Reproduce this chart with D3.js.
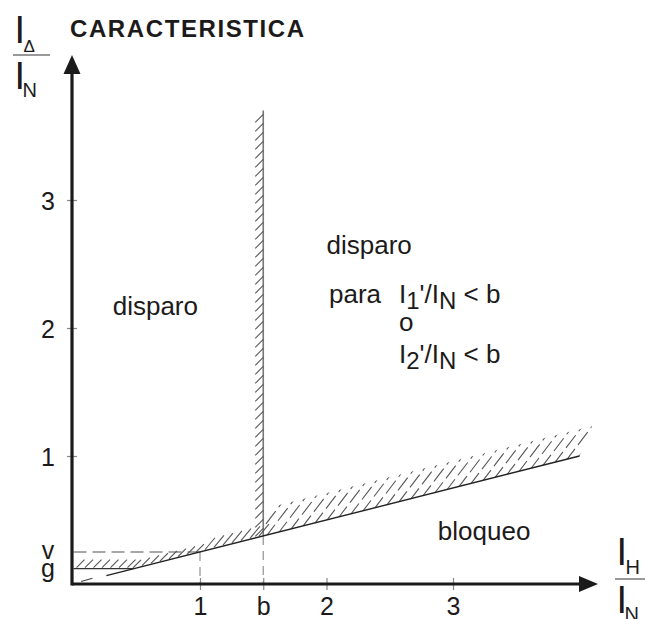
<!DOCTYPE html>
<html><head><meta charset="utf-8">
<script src="https://cdn.jsdelivr.net/npm/d3@7"></script>
<style>
html,body{margin:0;padding:0;background:#fff;}
text{font-family:"Liberation Sans",Arial,sans-serif;fill:#1c1a1a;}
</style></head>
<body><svg id="c" width="645" height="619"></svg>
<script>
// ---- data ----
const xTickVals = [1, 1.5, 2, 3];
const xTickLabels = ["1", "b", "2", "3"];
const yTickVals = [1, 2, 3];
const yTickLabels = ["1", "2", "3"];
const levelNames = ["v", "g"];
const levelVals = [0.25, 0.12];
const bValue = 1.5;
const slope = 0.25;            // characteristic line I_Δ/I_N = 0.25 · I_H/I_N
const lineRange = [0.26, 4.0];
const gEnd = 0.47;             // where g level meets the line
const vertTop = 3.7;           // top of vertical boundary at b
const bandOffset = 0.21;       // width of hatched band above line (right of b)
const bandUpperEnd = 4.1;
const regionLabels = ["disparo", "disparo", "bloqueo"];
const regionX = [0.31, 2.0, 2.88];
const regionY = [2.1, 2.58, 0.34];

// ---- scales ----
const svg = d3.select("#c");
const x = d3.scaleLinear().domain([0, 4]).range([73.5, 579.5]);
const y = d3.scaleLinear().domain([0, 3]).range([584, 200]);
const f = v => slope * v;

const defs = svg.append("defs");

// ---- gray dashed guides ----
svg.append("line").attr("x1", x(0)).attr("x2", x(1)).attr("y1", y(levelVals[0])).attr("y2", y(levelVals[0]))
  .attr("stroke", "#8a8a8a").attr("stroke-width", 1.3).attr("stroke-dasharray", "13,6");
[1, bValue].forEach(v => {
  svg.append("line").attr("x1", x(v)).attr("x2", x(v)).attr("y1", y(f(v))).attr("y2", y(0))
    .attr("stroke", "#9a9a9a").attr("stroke-width", 1.3).attr("stroke-dasharray", "9,6");
});

// ---- vertical boundary at b ----
const hatchCol = "#555";
svg.append("line").attr("x1", x(bValue)).attr("x2", x(bValue)).attr("y1", y(f(bValue))).attr("y2", y(vertTop))
  .attr("stroke", "#777").attr("stroke-width", 1.6);
const vh = [];
for (let py = y(vertTop) + 4; py < y(f(bValue)) - 4; py += 9) vh.push(py);
svg.append("g").selectAll("line").data(vh).join("line")
  .attr("x1", x(bValue) - 8).attr("y1", d => d + 8).attr("x2", x(bValue)).attr("y2", d => d)
  .attr("stroke", hatchCol).attr("stroke-width", 1.1);

// ---- g level and hatches ----
svg.append("line").attr("x1", x(0)).attr("x2", x(gEnd)).attr("y1", y(levelVals[1])).attr("y2", y(levelVals[1]))
  .attr("stroke", "#333").attr("stroke-width", 1.3);
const gh = [];
for (let px = x(0) + 3; px < x(gEnd) - 4; px += 8.5) gh.push(px);
svg.append("g").selectAll("line").data(gh).join("line")
  .attr("x1", d => d).attr("y1", y(levelVals[1]) - 1).attr("x2", d => d + 8).attr("y2", y(levelVals[1]) - 9)
  .attr("stroke", hatchCol).attr("stroke-width", 1.1);

// ---- hatches along line between g end and b ----
const lh = [];
for (let px = x(gEnd); px < x(bValue) - 3; px += 9) lh.push(px);
svg.append("g").selectAll("line").data(lh).join("line")
  .attr("x1", d => d).attr("y1", d => y(f(x.invert(d))) - 1)
  .attr("x2", d => d + (d > x(1) ? 10 : 8)).attr("y2", d => y(f(x.invert(d))) - (d > x(1) ? 13 : 9))
  .attr("stroke", hatchCol).attr("stroke-width", 1.1);

// ---- hatched band right of b ----
const bandPts = [[bValue, f(bValue)], [lineRange[1], f(lineRange[1])],
  [bandUpperEnd, f(bandUpperEnd) + bandOffset], [bValue, f(bValue) + bandOffset]];
defs.append("clipPath").attr("id", "band").append("path")
  .attr("d", d3.line().x(d => x(d[0])).y(d => y(d[1]))(bandPts) + "Z");
const bh = [];
for (let px = x(bValue) - 10; px < x(bandUpperEnd) + 4; px += 12) bh.push(px);
svg.append("g").attr("clip-path", "url(#band)").selectAll("line").data(bh).join("line")
  .attr("x1", d => d).attr("y1", d => y(f(x.invert(d))) + 2)
  .attr("x2", d => d + 32).attr("y2", d => y(f(x.invert(d))) - 40)
  .attr("stroke", hatchCol).attr("stroke-width", 1.1).attr("stroke-dasharray", "16,5");

// ---- characteristic line ----
svg.append("path").datum(lineRange)
  .attr("d", d3.line().x(d => x(d)).y(d => y(f(d))))
  .attr("stroke", "#222").attr("stroke-width", 1.4).attr("fill", "none");
svg.append("line").attr("x1", x(0.06)).attr("x2", x(0.15)).attr("y1", y(0.02)).attr("y2", y(0.045))
  .attr("stroke", "#444").attr("stroke-width", 1.1);

// ---- axes ----
const yAx = svg.append("g").attr("transform", `translate(${x(0) - 1.5},0)`)
  .call(d3.axisLeft(y).tickValues(yTickVals).tickFormat((d, i) => yTickLabels[i]).tickSize(5));
yAx.select(".domain").remove();
yAx.selectAll(".tick line").attr("x1", -5).attr("x2", 5).attr("stroke", "#888").attr("stroke-width", 1.2);
yAx.selectAll(".tick text").attr("x", -17).attr("dy", "0.36em").style("font-size", "25px")
  .style("font-family", "'Liberation Sans',Arial,sans-serif").attr("fill", "#1c1a1a");

const xAx = svg.append("g").attr("transform", `translate(0,${y(0)})`)
  .call(d3.axisBottom(x).tickValues(xTickVals).tickFormat((d, i) => xTickLabels[i]).tickSize(6));
xAx.select(".domain").remove();
xAx.selectAll(".tick line").attr("y1", -6).attr("y2", 6).attr("stroke", "#888").attr("stroke-width", 1.2);
xAx.selectAll(".tick text").attr("y", 13).attr("dy", "0.71em").style("font-size", "25px")
  .style("font-family", "'Liberation Sans',Arial,sans-serif").attr("fill", "#1c1a1a");

// axis lines + arrows
const ax0 = x(0) - 1.5;
svg.append("line").attr("x1", ax0).attr("x2", ax0).attr("y1", y(0) + 1.5).attr("y2", 72)
  .attr("stroke", "#1a1a1a").attr("stroke-width", 3.2);
svg.append("path").attr("d", `M${ax0},55 L${ax0 + 8.5},74 L${ax0 - 8.5},74 Z`).attr("fill", "#1a1a1a");
svg.append("line").attr("x1", ax0).attr("x2", 582).attr("y1", y(0)).attr("y2", y(0))
  .attr("stroke", "#1a1a1a").attr("stroke-width", 3.2);
svg.append("path").attr("d", `M598,${y(0)} L579,${y(0) - 8} L579,${y(0) + 8} Z`).attr("fill", "#1a1a1a");

// v / g labels
svg.append("g").selectAll("text").data(levelNames).join("text")
  .attr("x", 48).attr("y", (d, i) => i === 0 ? 559 : 577).attr("text-anchor", "middle")
  .style("font-size", "25px").text(d => d);

// ---- title ----
svg.append("text").attr("x", 70).attr("y", 37).style("font-size", "24px").style("font-weight", "bold")
  .style("letter-spacing", "1.6px").text("CARACTERISTICA");

// ---- axis labels (fractions) ----
function frac(cx, topBase, botBase, barY, x1, x2, sub1, sub2, s1size) {
  svg.append("text").attr("x", cx).attr("y", topBase).style("font-size", "38px").text("I");
  svg.append("text").attr("x", cx + 9).attr("y", topBase + 9).style("font-size", s1size + "px").text(sub1);
  svg.append("line").attr("x1", x1).attr("x2", x2).attr("y1", barY).attr("y2", barY).attr("stroke", "#777").attr("stroke-width", 1.5);
  svg.append("text").attr("x", cx).attr("y", botBase).style("font-size", "38px").text("I");
  svg.append("text").attr("x", cx + 8).attr("y", botBase + 8).style("font-size", "20px").text(sub2);
}
frac(14.5, 43, 89, 55, 13, 50, "Δ", "N", 17);
frac(616.5, 565, 613, 579, 615, 645, "H", "N", 20);

// ---- region labels ----
svg.append("g").selectAll("text").data(regionLabels).join("text")
  .attr("x", (d, i) => x(regionX[i])).attr("y", (d, i) => y(regionY[i]))
  .style("font-size", "26px").text(d => d);

// condition text
const cond = svg.append("g").style("font-size", "26px");
cond.append("text").attr("x", 329).attr("y", 303).text("para");
const t1 = cond.append("text").attr("x", 399).attr("y", 303);
t1.append("tspan").text("I");
t1.append("tspan").attr("dy", 6).style("font-size", "24px").text("1");
t1.append("tspan").attr("dy", -6).text("'/I");
t1.append("tspan").attr("dy", 6).style("font-size", "24px").text("N");
t1.append("tspan").attr("dy", -6).text(" < b");
cond.append("text").attr("x", 399).attr("y", 331).text("o");
const t2 = cond.append("text").attr("x", 399).attr("y", 363);
t2.append("tspan").text("I");
t2.append("tspan").attr("dy", 6).style("font-size", "24px").text("2");
t2.append("tspan").attr("dy", -6).text("'/I");
t2.append("tspan").attr("dy", 6).style("font-size", "24px").text("N");
t2.append("tspan").attr("dy", -6).text(" < b");
</script></body></html>
